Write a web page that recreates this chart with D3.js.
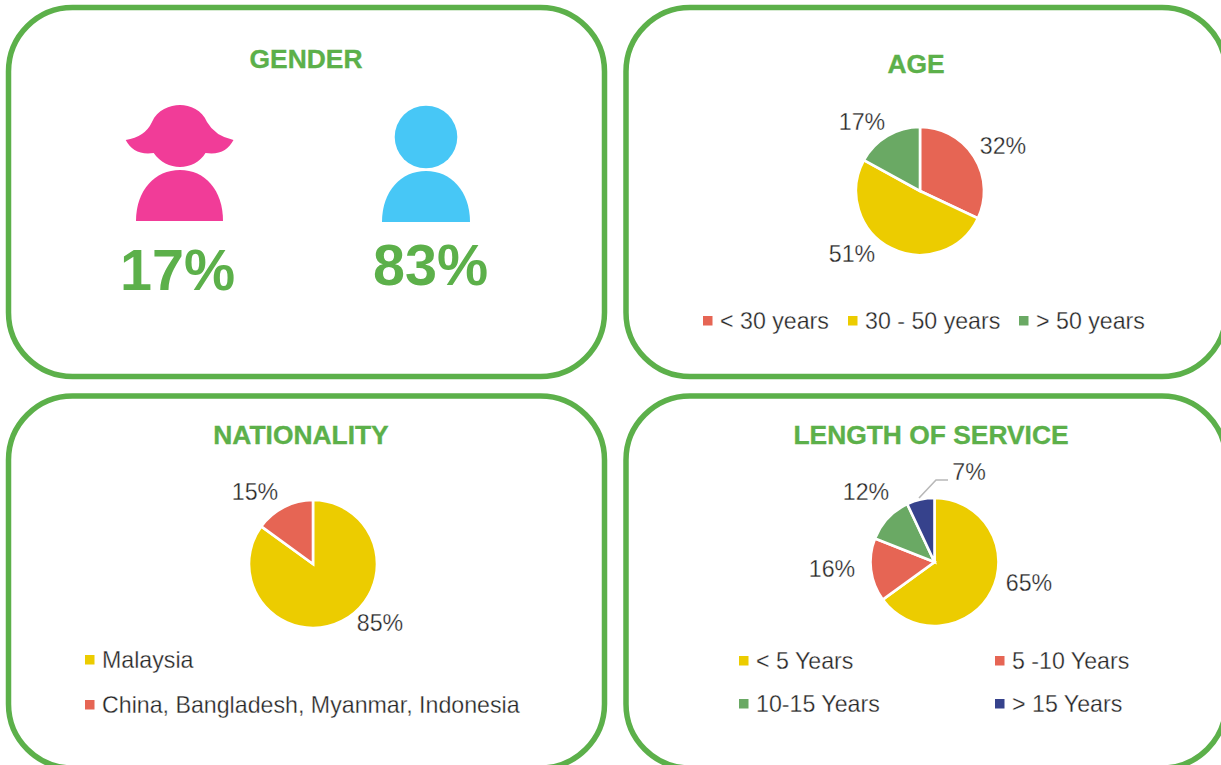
<!DOCTYPE html>
<html><head><meta charset="utf-8">
<script src="https://cdn.jsdelivr.net/npm/d3@7"></script>
<style>
html,body{margin:0;padding:0;background:#fff;overflow:hidden}
svg{display:block}
text{font-family:"Liberation Sans",sans-serif}
</style></head><body>
<svg id="c" width="1221" height="765"></svg>
<script>
// ---- data ----
const ageCats = ["< 30 years","30 - 50 years","> 50 years"];
const ageVals = [32,51,17];
const natCats = ["Malaysia","China, Bangladesh, Myanmar, Indonesia"];
const natVals = [85,15];
const losCats = ["< 5 Years","5 -10 Years","10-15 Years","> 15 Years"];
const losVals = [65,16,12,7];
const genderCats = ["Female","Male"];
const genderVals = [17,83];
const titles = ["GENDER","AGE","NATIONALITY","LENGTH OF SERVICE"];

// ---- style + layout ----
const GREEN="#5cb04a",PINK="#f13c98",BLUE="#47c7f6",YEL="#eccc00",RED="#e66554",PG="#6aa964",NAVY="#36428c",TXT="#262626";
const svg=d3.select("#c");
const LFS=23.2;

const panels=[[8.5,7.5,596,369],[626,7.5,600,369],[8.5,396,596,372],[626,396,600,372]];
svg.selectAll("rect.p").data(panels).join("rect").attr("class","p")
  .attr("x",d=>d[0]).attr("y",d=>d[1]).attr("width",d=>d[2]).attr("height",d=>d[3])
  .attr("rx",64).attr("ry",64).attr("fill","#fff").attr("stroke",GREEN).attr("stroke-width",5.5);

const titlePos=[[306,59],[916,64],[301,435],[931,435]];
svg.selectAll("text.t").data(titles).join("text").attr("class","t")
  .attr("x",(d,i)=>titlePos[i][0]).attr("y",(d,i)=>titlePos[i][1]+9)
  .attr("text-anchor","middle").attr("fill",GREEN).attr("stroke",GREEN).attr("stroke-width",0.35)
  .style("font-weight",700).style("font-size","26.4px").text(d=>d);

// gender icons
svg.append("path").attr("fill",PINK).attr("d",
 "M125.7,140 Q145,137 152,122 C157,110 170,105 180,105 C190,105 202,110 207,122 Q215,136 233.5,140 C228,150 220,155 205.5,153 C200,162 190,167 180,167 C170,167 160,162 153.7,153 C140,155 131,150 125.7,140 Z");
svg.append("path").attr("fill",PINK).attr("d","M136,221 C136,190 155,170 180,170 C205,170 223,190 223,221 Z");
svg.append("circle").attr("cx",426).attr("cy",137).attr("r",31.3).attr("fill",BLUE);
svg.append("path").attr("fill",BLUE).attr("d","M382,222 C382,191 401,171 426,171 C451,171 470,191 470,222 Z");
const gPos=[[177.5,290],[430.5,285]];
svg.selectAll("text.g").data(genderVals).join("text").attr("class","g")
  .attr("x",(d,i)=>gPos[i][0]).attr("y",(d,i)=>gPos[i][1]).attr("text-anchor","middle")
  .attr("fill",GREEN).style("font-weight",700).style("font-size","57.5px").text(d=>d+"%");

// pies
function styleText(s){
  return s.attr("fill",TXT).attr("stroke","#fff").attr("stroke-width",0.3).style("font-size",LFS+"px");
}
function pieChart(vals,cats,colors,cx,cy,labelPos,legend){
  const g=svg.append("g").attr("transform",`translate(${cx},${cy})`);
  const pie=d3.pie().sort(null)(vals);
  const arc=d3.arc().innerRadius(0).outerRadius(64);
  g.selectAll("path").data(pie).join("path").attr("d",arc)
    .attr("fill",(d,i)=>colors[i]).attr("stroke","#fff").attr("stroke-width",2.6);
  styleText(svg.selectAll(null).data(vals).join("text")
    .attr("x",(d,i)=>labelPos[i][0]).attr("y",(d,i)=>labelPos[i][1])
    .attr("text-anchor","middle")).text(d=>d+"%");
  svg.selectAll(null).data(cats).join("rect")
    .attr("x",(d,i)=>legend[i][0]).attr("y",(d,i)=>legend[i][1]-5).attr("width",9.5).attr("height",9.5)
    .attr("fill",(d,i)=>colors[i]);
  styleText(svg.selectAll(null).data(cats).join("text")
    .attr("x",(d,i)=>legend[i][0]+17).attr("y",(d,i)=>legend[i][1]+8)).text(d=>d);
}
pieChart(ageVals,ageCats,[RED,YEL,PG],920,191,[[1003,154],[852,262],[862,130]],[[703,321],[848,321],[1019,321]]);
pieChart(natVals,natCats,[YEL,RED],313,564,[[380,631],[255,500]],[[85,660],[85,705]]);
pieChart(losVals,losCats,[YEL,RED,PG,NAVY],934.5,562,[[1029,591],[832,577],[866,500],[969,480]],[[739,661],[995,661],[739,704],[995,704]]);
// leader line for 7%
svg.append("polyline").attr("points","919,498 936,480 948,480").attr("fill","none").attr("stroke","#b8b8b8").attr("stroke-width",1.6);
</script>
</body></html>
